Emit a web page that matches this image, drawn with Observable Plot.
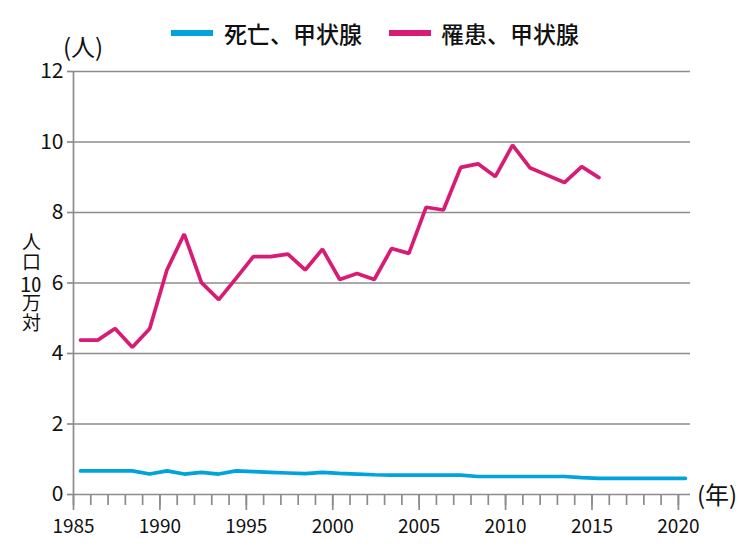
<!DOCTYPE html>
<html>
<head>
<meta charset="utf-8">
<script src="https://cdn.jsdelivr.net/npm/d3@7"></script>
<script src="https://cdn.jsdelivr.net/npm/@observablehq/plot@0.6"></script>
<style>
  html, body { margin: 0; padding: 0; background: #fff; }
  #wrap { position: relative; width: 750px; height: 549px; font-family: "Noto Sans CJK JP", sans-serif; color: #111; }
  .abs { position: absolute; white-space: nowrap; }
  .sw { position: absolute; height: 6px; width: 42px; }
  .lg { font-size: 23px; line-height: 23px; font-weight: 500; }
  .vlab { font-size: 19px; line-height: 30px; width: 30px; writing-mode: vertical-rl; text-orientation: upright; letter-spacing: 1px; }
  .tcy { text-combine-upright: all; font-size: 21px; letter-spacing: 0; }
</style>
</head>
<body>
<div id="wrap"></div>
<script>
// ---- data ----
const incidenceYears = [1985,1986,1987,1988,1989,1990,1991,1992,1993,1994,1995,1996,1997,1998,1999,2000,2001,2002,2003,2004,2005,2006,2007,2008,2009,2010,2011,2012,2013,2014,2015];
const incidenceValues = [4.38,4.38,4.71,4.18,4.70,6.37,7.39,6.01,5.53,6.13,6.75,6.75,6.82,6.37,6.96,6.10,6.27,6.10,6.98,6.84,8.15,8.07,9.28,9.38,9.02,9.91,9.27,9.06,8.85,9.30,8.99];
const mortalityYears = [1985,1986,1987,1988,1989,1990,1991,1992,1993,1994,1995,1996,1997,1998,1999,2000,2001,2002,2003,2004,2005,2006,2007,2008,2009,2010,2011,2012,2013,2014,2015,2016,2017,2018,2019,2020];
const mortalityValues = [0.67,0.67,0.67,0.67,0.58,0.67,0.58,0.63,0.58,0.67,0.65,0.63,0.61,0.59,0.63,0.60,0.58,0.56,0.55,0.55,0.55,0.55,0.55,0.51,0.51,0.51,0.51,0.51,0.51,0.48,0.46,0.46,0.46,0.46,0.46,0.46];
const seriesNames = ["死亡、甲状腺", "罹患、甲状腺"];
const seriesColors = ["#00a3dd", "#d81b74"];
const yTicks = [0,2,4,6,8,10,12];
const xMajorTicks = [1985,1990,1995,2000,2005,2010,2015,2020];
const xMinorTicks = d3.range(1985, 2021);
const yUnit = "(人)";
const xUnit = "(年)";
const yLabelParts = ["人口", "10", "万対"];

const mortality = mortalityYears.map((year, i) => ({year, value: mortalityValues[i]}));
const incidence = incidenceYears.map((year, i) => ({year, value: incidenceValues[i]}));

const gridColor = "#8c8c8c";

const chart = Plot.plot({
  width: 750,
  height: 549,
  marginTop: 71,
  marginLeft: 73,
  marginRight: 60,
  marginBottom: 55,
  style: {fontFamily: "'Noto Sans CJK JP', sans-serif", color: "#111", background: "transparent"},
  x: {domain: [1985, 2020.7]},
  y: {domain: [0, 12]},
  marks: [
    Plot.ruleY(yTicks, {stroke: gridColor, strokeWidth: 1.7}),
    Plot.ruleX([1985], {stroke: gridColor, strokeWidth: 1.7}),
    Plot.axisY({ticks: yTicks, tickSize: 6, tickPadding: 4, fontSize: 21, stroke: gridColor, strokeWidth: 1.7, label: null, tickFormat: d => String(d), color: "#111"}),
    Plot.axisX({ticks: xMinorTicks, tickSize: 11, tickFormat: () => "", stroke: gridColor, strokeWidth: 1.7, label: null}),
    Plot.axisX({ticks: xMajorTicks, tickSize: 16, tickPadding: 9, fontSize: 19, stroke: gridColor, strokeWidth: 1.7, label: null, tickFormat: d => String(d)}),
    Plot.line(mortality, {x: "year", y: "value", dx: 7, stroke: seriesColors[0], strokeWidth: 3.7, strokeLinejoin: "miter"}),
    Plot.line(incidence, {x: "year", y: "value", dx: 7, stroke: seriesColors[1], strokeWidth: 3.7, strokeLinejoin: "miter"})
  ]
});

const wrap = document.getElementById("wrap");
wrap.appendChild(chart);
chart.style.position = "absolute";
chart.style.left = "0px";
chart.style.top = "0px";

function addDiv(cls, text, styles) {
  const d = document.createElement("div");
  d.className = "abs " + cls;
  if (text != null) d.textContent = text;
  Object.assign(d.style, styles);
  wrap.appendChild(d);
  return d;
}

// legend
addDiv("sw", null, {left: "171px", top: "30px", background: seriesColors[0]});
addDiv("lg", seriesNames[0], {left: "224px", top: "22px"});
addDiv("sw", null, {left: "389px", top: "30px", background: seriesColors[1]});
addDiv("lg", seriesNames[1], {left: "441px", top: "22px"});

// unit labels
addDiv("", yUnit, {left: "63px", top: "33px", fontSize: "24px", lineHeight: "26px"});
addDiv("", xUnit, {left: "697px", top: "481px", fontSize: "24px", lineHeight: "26px"});

// vertical y label (one vertical text, "10" set upright)
const v = addDiv("vlab", null, {left: "16px", top: "232px"});
v.innerHTML = `${yLabelParts[0]}<span class="tcy">${yLabelParts[1]}</span>${yLabelParts[2]}`;
</script>
</body>
</html>
